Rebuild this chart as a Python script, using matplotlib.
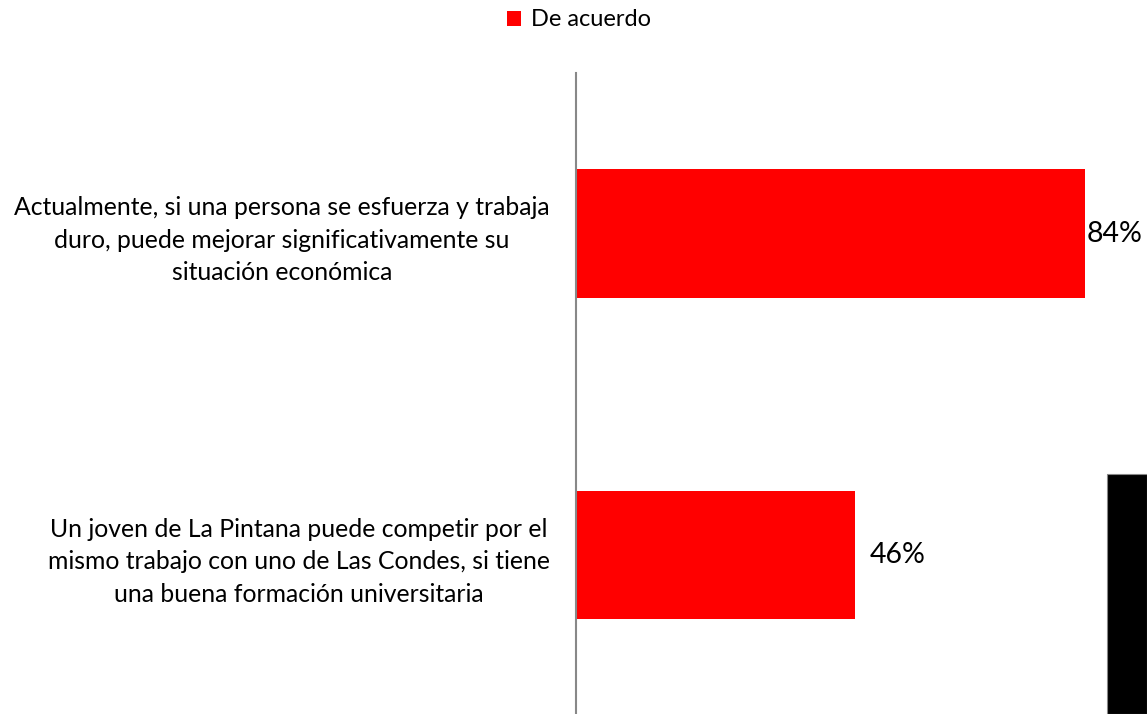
import matplotlib.pyplot as plt
from matplotlib.patches import Rectangle

plt.rcParams['font.family'] = ['Lato', 'DejaVu Sans']

categories = [
    'Actualmente, si una persona se esfuerza y trabaja\nduro, puede mejorar significativamente su\nsituación económica',
    'Un joven de La Pintana puede competir por el\nmismo trabajo con uno de Las Condes, si tiene\nuna buena formación universitaria',
]
values = [84, 46]
series_name = 'De acuerdo'
label_pad = [2, 15]  # separación de la etiqueta en px

fig = plt.figure(figsize=(11.47, 7.14), dpi=100)
ax = fig.add_axes([576 / 1147, -0.002, 571 / 1147, 0.8998])

pos = list(range(len(categories)))
ax.barh(pos, values, height=0.4, color='#ff0000', label=series_name)
ax.set_ylim(len(categories) - 0.5, -0.5)
ax.set_xlim(0, 571 / 6.06)

ax.set_yticks(pos)
ax.set_yticklabels(categories, fontsize=17.8, multialignment='center', linespacing=1.5)
ax.tick_params(axis='y', length=0, pad=19)
ax.set_xticks([])

for s in ['top', 'right', 'bottom']:
    ax.spines[s].set_visible(False)
ax.spines['left'].set_color('#888888')
ax.spines['left'].set_linewidth(1.5)

for i, v in enumerate(values):
    ax.annotate(f'{v}%', (v, i), xytext=(label_pad[i] * 0.72, 0), textcoords='offset points',
                va='center', ha='left', fontsize=20.5, clip_on=False)

fig.legend(loc='center', bbox_to_anchor=(579 / 1147, 1 - 20 / 714), frameon=False,
           fontsize=17, handlelength=0.6, handleheight=0.6, handletextpad=0.4)

# bloque negro en la esquina inferior derecha
fig.patches.append(Rectangle((1107 / 1147, 0), 40 / 1147, 240 / 714, transform=fig.transFigure,
                             facecolor='black', edgecolor='#888888', linewidth=0.8))

fig.savefig('out.png', dpi=100)
